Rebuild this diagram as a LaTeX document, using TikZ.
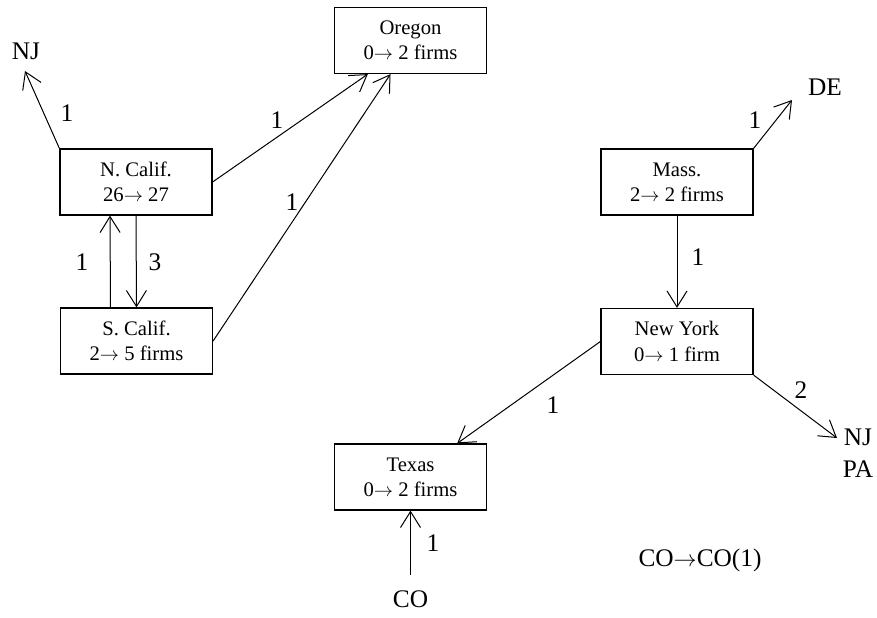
\documentclass[tikz,border=0pt]{standalone}
\usepackage{fontspec}
\setmainfont{Liberation Serif}
\usetikzlibrary{arrows.meta}
\newcommand{\flowto}{$\rightarrow$}

\begin{document}
\begin{tikzpicture}[x=0.75pt,y=0.75pt,yscale=-1,xscale=1,
    firmbox/.style={draw, line width=0.9pt, minimum width=114pt, minimum height=49.5pt, align=center, font=\fontsize{15.5}{19}\selectfont},
    lbl/.style={inner sep=0.75pt, align=center, font=\fontsize{19}{24}\selectfont},
    arr/.style={line width=0.75pt, -{Straight Barb[length=12pt,width=15pt,line width=0.75pt]}}]
\useasboundingbox (0,0) rectangle (877,617);

% Boxes
\node [firmbox] (oregon) at (410.5,40.5) {Oregon\\0\flowto\ 2 firms};
\node [firmbox] (ncalif) at (136,182) {N. Calif.\\26\flowto\ 27};
\node [firmbox] (scalif) at (136.5,341) {S. Calif.\\2\flowto\ 5 firms};
\node [firmbox] (mass) at (677,182) {Mass.\\2\flowto\ 2 firms};
\node [firmbox] (newyork) at (677,341.5) {New York\\0\flowto\ 1 firm};
\node [firmbox] (texas) at (410.5,477) {Texas\\0\flowto\ 2 firms};

% Text Node
\node [lbl] (nj) at (26,51) {NJ};
\node [lbl] (de) at (825,87) {DE};
\node [lbl] (njpa) at (858,453) {NJ\\PA};
\node [lbl] (co) at (410.5,599) {CO};
\node [lbl] (coco) at (700,560) {CO\flowto CO(1)};

% free ends
\coordinate (njtip) at (25,71);
\coordinate (detip) at (792,100);
\coordinate (njpatip) at (837,438);
\coordinate (cotail) at (410.5,575);

%Straight Lines
\draw [arr] (ncalif.north west) -- (njtip);
\draw [arr] (ncalif.east) -- ([xshift=-32pt]oregon.south);
\draw [arr] (scalif.east) -- ([xshift=-15pt]oregon.south);
\draw [arr] ([xshift=-19.5pt]scalif.north) -- ([xshift=-19.5pt]ncalif.south);
\draw [arr] (ncalif.south) -- (scalif.north);
\draw [arr] (mass.north east) -- (detip);
\draw [arr] (mass.south) -- (newyork.north);
\draw [arr] (newyork.west) -- ([xshift=35pt]texas.north);
\draw [arr] (newyork.south east) -- (njpatip);
\draw [arr] (cotail) -- (texas.south);

% Flow labels
\node [lbl] (lnj) at (67,113) {1};
\node [lbl] (lnor) at (277,120) {1};
\node [lbl] (lsor) at (292,202) {1};
\node [lbl] (lsn) at (82,262) {1};
\node [lbl] (lns) at (155,262) {3};
\node [lbl] (lde) at (755,120) {1};
\node [lbl] (lmny) at (698,257) {1};
\node [lbl] (lnytx) at (553,405) {1};
\node [lbl] (lnyp) at (801,390) {2};
\node [lbl] (lco) at (433,543) {1};
\end{tikzpicture}
\end{document}
